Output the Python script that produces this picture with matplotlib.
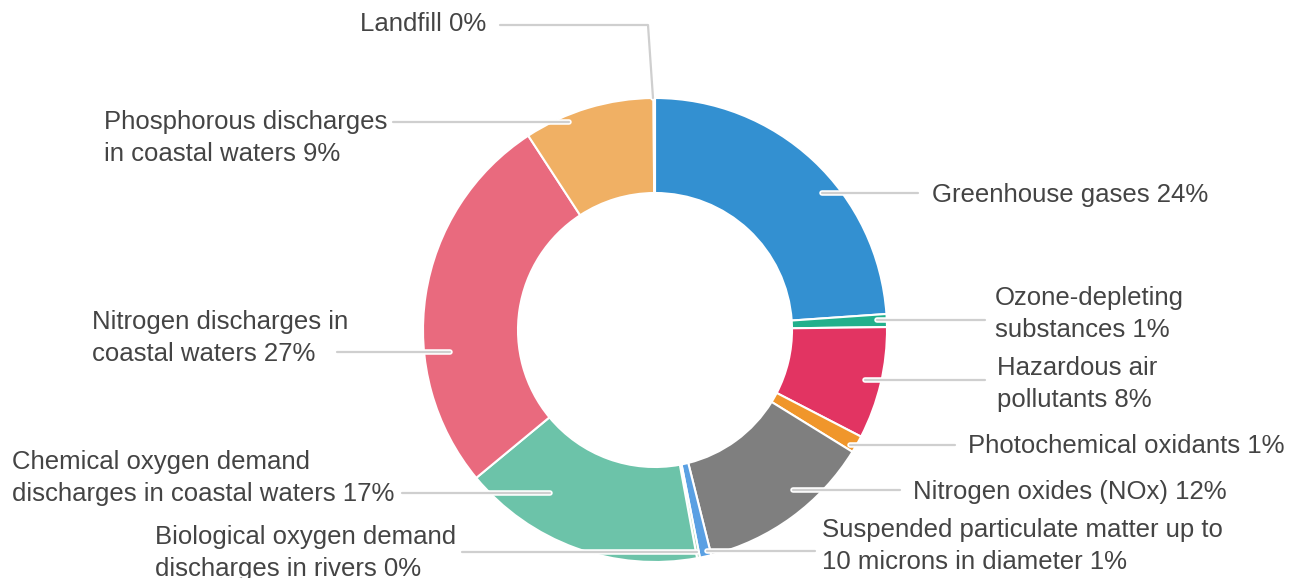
import numpy as np
import matplotlib.pyplot as plt
import matplotlib.patheffects as pe

plt.rcParams['font.family'] = ['Liberation Sans', 'DejaVu Sans']

# data, clockwise from 12 o'clock
categories = [
    'Greenhouse gases',
    'Ozone-depleting\nsubstances',
    'Hazardous air\npollutants',
    'Photochemical oxidants',
    'Nitrogen oxides (NOx)',
    'Suspended particulate matter up to\n10 microns in diameter',
    'Biological oxygen demand\ndischarges in rivers',
    'Chemical oxygen demand\ndischarges in coastal waters',
    'Nitrogen discharges in\ncoastal waters',
    'Phosphorous discharges\nin coastal waters',
    'Landfill',
]
shares = [23.9, 0.9, 7.8, 1.2, 12.3, 0.8, 0.2, 16.9, 26.8, 9.1, 0.1]
shown_pct = [24, 1, 8, 1, 12, 1, 0, 17, 27, 9, 0]
colors = ['#3390d1', '#22b08c', '#e23462', '#f0962b', '#7f7f7f', '#5aa0e3',
          '#8fc9a0', '#6cc3a9', '#e96a7e', '#f0b064', '#c8c8c8']

# layout in pixels (y measured from the top of the image)
W, H = 1289, 578
cx, cy, R, ring = 655, 330, 232, 95
label_x = [932, 995, 997, 968, 913, 822, 155, 12, 92, 104, 360]
label_y = [195, 314, 384, 446, 492, 546, 553, 478, 338, 138, 24]
lead_y = [193, 320, 380, 445, 490, 551, 552, 493, 352, 122, 25]
lead_end = [918, 985, 985, 955, 900, 815, 462, 402, 337, 393, 500]
anchor_r = [216, 222, 216, 226, 211, 227, 226, 194, 206, 225, 232]


def fy(py):
    return H - py


fig = plt.figure(figsize=(W / 100, H / 100), dpi=100)
ax = fig.add_axes([0, 0, 1, 1])
ax.pie(shares, colors=colors, startangle=90, counterclock=False,
       radius=R, center=(cx, fy(cy)),
       wedgeprops=dict(width=ring, edgecolor='white', linewidth=1.5))
ax.set_xlim(0, W)
ax.set_ylim(0, H)
ax.set_aspect('equal')
ax.axis('off')

# mid angle of each slice, clockwise from the top
cum = np.cumsum(shares) - np.array(shares) / 2
mid = np.radians(cum / np.sum(shares) * 360)

line_kw = dict(color='#cfcfcf', lw=1.6, solid_capstyle='round', zorder=5,
               path_effects=[pe.Stroke(linewidth=4, foreground='white'), pe.Normal()])

for i, name in enumerate(categories):
    text = f'{name} {shown_pct[i]}%'
    ax.text(label_x[i], fy(label_y[i]), text, ha='left', va='center',
            fontsize=18.5, color='#444444', linespacing=1.42)

    ly = lead_y[i]
    if name == 'Landfill':
        # leader goes across then drops to the top of the ring
        ax.plot([lead_end[i], cx - 7, cx - 2], [fy(ly), fy(ly), fy(cy - R)], **line_kw)
        continue
    dy = ly - cy
    dx = np.sqrt(anchor_r[i] ** 2 - dy ** 2)
    side = np.sign(np.sin(mid[i]))
    ax.plot([lead_end[i], cx + side * dx], [fy(ly), fy(ly)], **line_kw)

fig.savefig('out.png', dpi=100)
